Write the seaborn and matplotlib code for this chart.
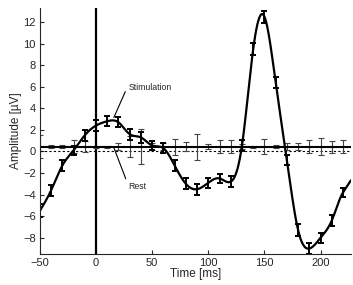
import numpy as np
import pandas as pd
import seaborn as sns
import matplotlib
matplotlib.use("Agg")
import matplotlib.pyplot as plt

# data (every 10 ms)
time_ms = list(range(-50, 230, 10))
stim_uv = [-5.5, -3.6, -1.3, 0.1, 1.5, 2.4, 2.8, 2.7, 1.6, 1.3, 0.55, 0.3, -1.3, -3.0,
           -3.5, -2.9, -2.5, -2.8, 0.55, 9.5, 12.5, 6.4, -0.8, -7.3, -9.0, -8.0, -6.4, -3.8]
stim_err = [0.6, 0.5, 0.5, 0.45, 0.5, 0.5, 0.45, 0.45, 0.5, 0.5, 0.45, 0.45, 0.5, 0.5,
            0.5, 0.45, 0.45, 0.5, 0.5, 0.6, 0.55, 0.5, 0.5, 0.55, 0.5, 0.45, 0.5, 0.45]
rest_uv = [0.45] * len(time_ms)
rest_err = [1.1, 0.15, 0.15, 0.6, 0.5, 0.1, 0.1, 0.35, 1.0, 1.6, 0.3, 0.3, 0.75, 0.4,
            1.2, 0.2, 0.6, 0.6, 0.2, 0.1, 0.7, 0.15, 0.3, 0.3, 0.6, 0.8, 0.55, 0.6]


def smooth_spline(x, y, xs, end_slope):
    # cubic spline (natural at the start, clamped slope at the end), only to draw the line;
    # past the last point it continues straight with end_slope
    x = np.asarray(x, float); y = np.asarray(y, float)
    n = len(x); h = np.diff(x)
    A = np.zeros((n, n)); b = np.zeros(n)
    A[0, 0] = 1
    for i in range(1, n - 1):
        A[i, i - 1] = h[i - 1]; A[i, i] = 2 * (h[i - 1] + h[i]); A[i, i + 1] = h[i]
        b[i] = 3 * ((y[i + 1] - y[i]) / h[i] - (y[i] - y[i - 1]) / h[i - 1])
    A[-1, -2] = h[-1]; A[-1, -1] = 2 * h[-1]
    b[-1] = 3 * (end_slope - (y[-1] - y[-2]) / h[-1])
    c = np.linalg.solve(A, b)
    bb = (y[1:] - y[:-1]) / h - h * (2 * c[:-1] + c[1:]) / 3
    d = (c[1:] - c[:-1]) / (3 * h)
    idx = np.clip(np.searchsorted(x, xs) - 1, 0, n - 2)
    dx = xs - x[idx]
    out = y[idx] + bb[idx] * dx + c[idx] * dx ** 2 + d[idx] * dx ** 3
    past = xs > x[-1]
    out[past] = y[-1] + end_slope * (xs[past] - x[-1])
    return out


def main():
    sns.set_theme(style="ticks")
    plt.rcParams['font.family'] = ['Liberation Sans', 'DejaVu Sans']
    plt.rcParams['xtick.direction'] = 'in'
    plt.rcParams['ytick.direction'] = 'in'

    fig = plt.figure(figsize=(3.53, 2.85), dpi=100)
    ax = fig.add_axes([0.113, 0.109, 0.881, 0.863])

    xs = np.linspace(-50, 227, 600)
    smooth = pd.DataFrame({"time": xs, "amp": smooth_spline(time_ms, stim_uv, xs, 0.16)})

    ax.axhline(0, color="black", lw=0.8, ls=(0, (2, 2)))
    ax.axvline(0, color="black", lw=1.6)

    # rest
    ax.errorbar(time_ms, rest_uv, yerr=rest_err, fmt="none", ecolor="#444444",
                elinewidth=0.8, capsize=2.5, capthick=0.8)
    ax.plot([-50, 227], [0.45, 0.45], color="black", lw=1.5)

    # stimulation
    sns.lineplot(data=smooth, x="time", y="amp", color="black", lw=1.6, ax=ax)
    ax.errorbar(time_ms, stim_uv, yerr=stim_err, fmt="none", ecolor="black",
                elinewidth=1.4, capsize=2.2, capthick=1.4)

    ax.annotate("Stimulation", xy=(15.9, 3.15), xytext=(29, 5.95), fontsize=6.3,
                va="center", ha="left",
                arrowprops=dict(arrowstyle="-", color="black", lw=0.8, shrinkA=0, shrinkB=0,
                                relpos=(-0.05, 0.3)))
    ax.annotate("Rest", xy=(15.7, 0.4), xytext=(29, -3.25), fontsize=6.3,
                va="center", ha="left",
                arrowprops=dict(arrowstyle="-", color="black", lw=0.8, shrinkA=0, shrinkB=0,
                                relpos=(-0.05, 0.8)))

    ax.set_xlim(-50, 227)
    ax.set_ylim(-9.5, 13.3)
    ax.set_xticks([-50, 0, 50, 100, 150, 200])
    ax.set_yticks(list(range(-8, 14, 2)))
    ax.set_xlabel("Time [ms]", fontsize=8.5, labelpad=0)
    ax.set_ylabel("Amplitude [µV]", fontsize=8.5, labelpad=1)
    ax.tick_params(labelsize=8, length=3, width=0.8, pad=3)
    sns.despine(ax=ax)
    for s in ["left", "bottom"]:
        ax.spines[s].set_linewidth(0.8)

    fig.savefig("out.png", dpi=100)


if __name__ == '__main__':
    main()
